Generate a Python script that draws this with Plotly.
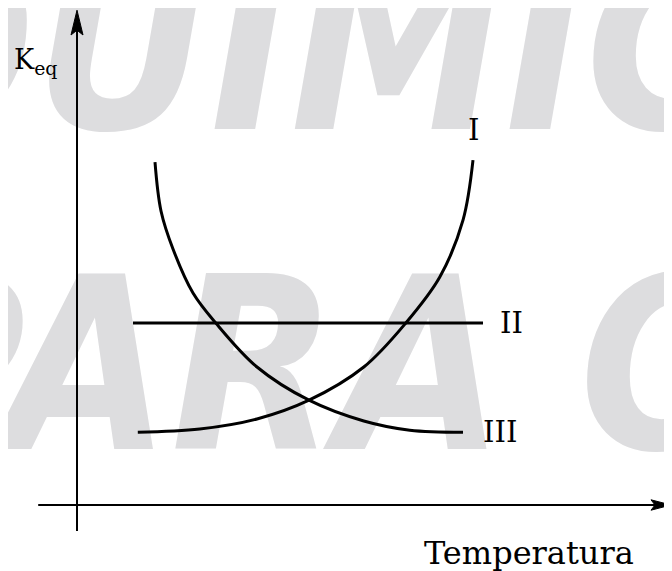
import plotly.graph_objects as go

# curve points (temperature, K_eq in arbitrary units)
temp_I = [1.52, 3.07, 4.5, 5.8, 7.17, 8.22, 9.07, 9.65, 9.9]
keq_I = [1.82, 1.9, 2.15, 2.62, 3.45, 4.55, 5.7, 7.12, 8.62]

temp_II = [1.4, 10.15]
keq_II = [4.55, 4.55]

temp_III = [1.95, 2.1, 2.4, 2.9, 3.47, 4.5, 5.8, 7.17, 8.32, 9.65]
keq_III = [8.57, 7.35, 6.4, 5.3, 4.55, 3.45, 2.62, 2.1, 1.87, 1.82]

curve_names = ["I", "II", "III"]
watermark = ["QUÍMICA", "PARA O"]

# axis extents
x_axis = [-0.97, 14.85]
y_axis = [-0.65, 12.37]

fig = go.Figure()

# faint watermark behind everything
fig.add_trace(go.Scatter(
    x=[7.6, 5.95], y=[10.9, 2.9], mode="text", text=watermark,
    textposition="middle center", cliponaxis=False, hoverinfo="skip",
    textfont=dict(family="DejaVu Sans Condensed, Liberation Sans Narrow, Liberation Sans",
                  size=240, color="rgb(221,221,223)", weight="bold", style="italic"),
    showlegend=False))

for xs, ys in [(temp_I, keq_I), (temp_II, keq_II), (temp_III, keq_III)]:
    fig.add_trace(go.Scatter(x=xs, y=ys, mode="lines",
                             line=dict(color="black", width=3, shape="spline", smoothing=1.0),
                             showlegend=False, hoverinfo="skip"))

# axes with arrowheads
fig.add_shape(type="line", x0=0, x1=0, y0=y_axis[0], y1=y_axis[1] - 0.4,
              line=dict(color="black", width=2))
fig.add_shape(type="line", x0=x_axis[0], x1=x_axis[1] - 0.4, y0=0, y1=0,
              line=dict(color="black", width=2))
t = y_axis[1]
fig.add_shape(type="path", fillcolor="black", line=dict(color="black", width=1),
              path=f"M 0,{t} L 0.15,{t-0.62} L 0,{t-0.5} L -0.15,{t-0.62} Z")
t = x_axis[1]
fig.add_shape(type="path", fillcolor="black", line=dict(color="black", width=1),
              path=f"M {t},0 L {t-0.5},0.13 L {t-0.4},0 L {t-0.5},-0.13 Z")

lab_font = dict(family="DejaVu Serif", size=29, color="black")
fig.add_annotation(x=temp_I[-1], y=keq_I[-1] + 0.75, text=curve_names[0],
                   showarrow=False, font=lab_font)
fig.add_annotation(x=temp_II[-1] + 0.7, y=keq_II[-1], text=curve_names[1],
                   showarrow=False, font=lab_font)
fig.add_annotation(x=temp_III[-1] + 0.92, y=keq_III[-1], text=curve_names[2],
                   showarrow=False, font=lab_font)
fig.add_annotation(x=-1.05, y=11.1, text="K<sub>eq</sub>", showarrow=False,
                   font=dict(family="DejaVu Serif", size=27, color="black"))
fig.add_annotation(x=11.3, y=-1.2, text="Temperatura", showarrow=False,
                   font=dict(family="DejaVu Serif", size=32, color="black"))

# the page body adds 8px, so the ranges are shifted to compensate
fig.update_layout(
    width=672, height=571, margin=dict(l=0, r=0, t=0, b=0),
    plot_bgcolor="white", paper_bgcolor="white",
    xaxis=dict(range=[-1.725, 15.075], visible=False, fixedrange=True),
    yaxis=dict(range=[-1.85, 12.425], visible=False, fixedrange=True),
)

fig.write_html("out.html")
